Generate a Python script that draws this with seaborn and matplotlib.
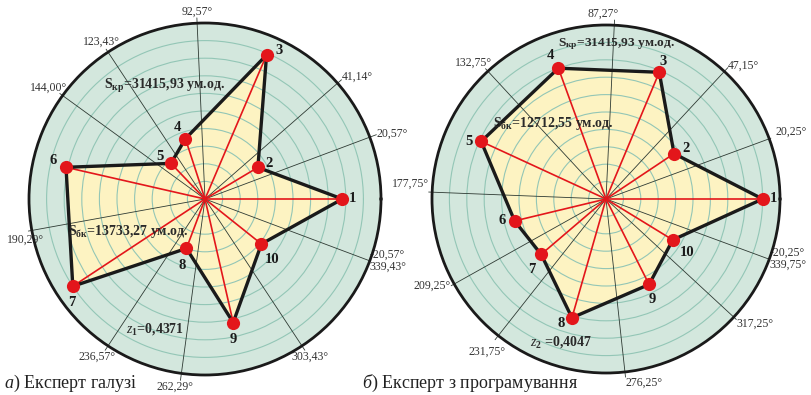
import numpy as np
import matplotlib
matplotlib.use("Agg")
import matplotlib.pyplot as plt
import seaborn as sns

# ---------------- data ----------------
point_ids = ["1", "2", "3", "4", "5", "6", "7", "8", "9", "10"]

# panel a) - expert of the industry
a_angles = [0.0, 30.86, 66.86, 108.00, 133.72, 167.15, 213.43, 249.43, 282.86, 321.43]
a_radii = [78, 35, 89, 36, 28, 81, 90, 30, 72, 41]
a_bounds = [20.57, 41.14, 92.57, 123.43, 144.00, 190.29, 236.57, 262.29, 303.43, 339.43]
a_bound_labels = ["20,57°", "41,14°", "92,57°", "123,43°", "144,00°", "190,29°",
                  "236,57°", "262,29°", "303,43°", "-20,57°\n339,43°"]
a_s_kr = "31415,93"
a_s_bk = "13733,27"
a_z = "0,4371"
a_caption = ") Експерт галузі"

# panel b) - expert in programming
b_angles = [0.0, 33.70, 67.21, 110.01, 155.25, 193.50, 220.50, 254.00, 296.75, 328.50]
b_radii = [90, 47, 79, 80, 79, 54, 49, 71, 55, 45]
b_bounds = [20.25, 47.15, 87.27, 132.75, 177.75, 209.25, 231.75, 276.25, 317.25, 339.75]
b_bound_labels = ["20,25°", "47,15°", "87,27°", "132,75°", "177,75°", "209,25°",
                  "231,75°", "276,25°", "317,25°", "-20,25°\n339,75°"]
b_s_kr = "31415,93"
b_s_bk = "12712,55"
b_z = "0,4047"
b_caption = ") Експерт з програмування"

# ---------------- style ----------------
BG = "#d3e7dd"
RING = "#93c6b6"
YELLOW = "#fdf3c2"
RED = "#e3161b"
DARK = "#2e3a33"
EDGE = "#1a1a1a"

sns.set_style("white")
plt.rcParams["font.family"] = ["Liberation Serif", "DejaVu Serif"]
plt.rcParams["mathtext.fontset"] = "custom"
plt.rcParams["mathtext.rm"] = "Liberation Serif"
plt.rcParams["mathtext.it"] = "Liberation Serif:italic"
plt.rcParams["mathtext.bf"] = "Liberation Serif:bold"

# label placement styles: (r_end, ha, va, dx, dy) in points
a_lbl_style = [(104, "left", "center", 0, 1), (103, "left", "center", 0, 2),
               (103, "center", "bottom", 0, 0), (102, "center", "bottom", -3, 1),
               (102, "right", "bottom", 5, 0), (102, "center", "top", -2, -2),
               (103, "center", "top", -6, 0), (104, "center", "top", -4, 0),
               (103, "center", "top", 4, 0), (100, "left", "center", 0, 0)]
b_lbl_style = [(101, "left", "bottom", 3, 0), (103, "left", "center", 0, 1),
               (103, "center", "bottom", -8, 0), (102, "right", "bottom", 5, 0),
               (102, "right", "bottom", 0, 2), (102, "right", "center", 0, 0),
               (103, "center", "top", -6, -4), (103, "left", "top", 0, 0),
               (102, "left", "center", 0, -3), (100, "left", "center", 0, 0)]
a_num_off = [(7, 0), (8, 3), (9, 3), (-6, 8), (-8, 5), (-9, 5), (-1, -12), (-3, -12), (0, -12), (8, -11)]
b_num_off = [(8, 0), (9, 4), (3, 8), (-6, 9), (-9, 0), (-9, 0), (-7, -11), (-8, -4), (2, -11), (10, -9)]


def panel(ax, angles, radii, bounds, labels, lbl_style, num_off):
    th = np.deg2rad(angles)
    r = np.asarray(radii, dtype=float)
    thc = np.r_[th, th[0]]
    rc = np.r_[r, r[0]]

    ax.set_facecolor(BG)
    ax.set_ylim(0, 100)
    ax.set_yticks(np.arange(10, 100, 10))
    ax.set_yticklabels([])
    ax.set_xticks([])
    ax.yaxis.grid(True, color=RING, lw=0.8)
    ax.xaxis.grid(False)
    ax.set_axisbelow(False)
    ax.spines["polar"].set_linewidth(2.0)
    ax.spines["polar"].set_color(EDGE)
    ax.spines["polar"].set_zorder(6)

    ax.fill(thc, rc, color=YELLOW, lw=0, zorder=1)

    for b, lab, (re, ha, va, dx, dy) in zip(bounds, labels, lbl_style):
        tb = np.deg2rad(b)
        ax.plot([tb, tb], [0, re], color=DARK, lw=0.6, clip_on=False, zorder=2.6)
        ax.annotate(lab, (tb, re), xytext=(dx, dy), textcoords="offset points",
                    ha=ha, va=va, fontsize=8.5, color="#333333",
                    annotation_clip=False, linespacing=1.0)

    ax.vlines(th, 0, r, color=RED, lw=1.2, zorder=3)
    sns.lineplot(x=thc, y=rc, sort=False, estimator=None, color=EDGE, lw=2.4,
                 ax=ax, zorder=4)
    sns.scatterplot(x=th, y=r, color=RED, s=90, linewidth=0, zorder=5,
                    ax=ax, legend=False, clip_on=False)
    for t, rr, n, off in zip(th, r, point_ids, num_off):
        ax.annotate(n, (t, rr), xytext=off, textcoords="offset points",
                    ha="center", va="center", fontsize=10.5, fontweight="bold",
                    color=EDGE, zorder=7)
    ax.set_xlabel("")
    ax.set_ylabel("")


fig = plt.figure(figsize=(8.12, 3.95), dpi=100)
ax1 = fig.add_axes([29 / 812, 20 / 395, 352 / 812, 352 / 395], projection="polar")
ax2 = fig.add_axes([432 / 812, 22 / 395, 348 / 812, 348 / 395], projection="polar")

panel(ax1, a_angles, a_radii, a_bounds, a_bound_labels, a_lbl_style, a_num_off)
panel(ax2, b_angles, b_radii, b_bounds, b_bound_labels, b_lbl_style, b_num_off)

tk = dict(fontsize=10, fontweight="bold", color="#2a2a2a", ha="center", va="center", zorder=8)
ax1.text(0.386, 0.821, r"$\mathbf{S}_{\mathbf{кр}}$=" + a_s_kr + " ум.од.", transform=ax1.transAxes, **tk)
ax1.text(0.281, 0.409, r"$\mathbf{S}_{\mathbf{бк}}$=" + a_s_bk + " ум.од.", transform=ax1.transAxes, **tk)
ax1.text(0.358, 0.131, r"$\mathit{z}_{\mathbf{1}}$=" + a_z, transform=ax1.transAxes, **tk)
ax2.text(0.529, 0.945, r"$\mathbf{S}_{\mathbf{кр}}$=" + b_s_kr + " ум.од.", transform=ax2.transAxes,
         **{**tk, "fontsize": 9.6})
ax2.text(0.348, 0.718, r"$\mathbf{S}_{\mathbf{бк}}$=" + b_s_bk + " ум.од.", transform=ax2.transAxes, **tk)
ax2.text(0.371, 0.089, r"$\mathit{z}_{\mathbf{2}}$ =" + b_z, transform=ax2.transAxes, **tk)

fig.text(4 / 812, 1 - 383 / 395, r"$\mathit{а}$" + a_caption, fontsize=13, ha="left", va="center", color="#222222")
fig.text(362 / 812, 1 - 383 / 395, r"$\mathit{б}$" + b_caption, fontsize=13, ha="left", va="center", color="#222222")

fig.savefig("out.png", dpi=100)
